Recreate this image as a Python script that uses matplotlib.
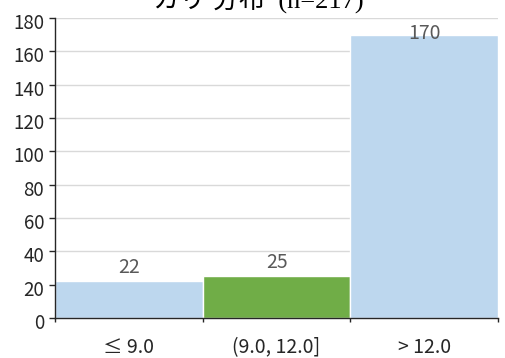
import matplotlib
matplotlib.use("Agg")
import matplotlib.pyplot as plt
import matplotlib.transforms as mtransforms
import numpy as np

# data
categories = ["≤ 9.0", "(9.0, 12.0]", "> 12.0"]
counts = [22, 25, 170]
bar_colors = ["#BDD7EE", "#70AD47", "#BDD7EE"]
title = "カリ 分布  (n=217)"

plt.rcParams['font.family'] = ['Noto Sans CJK JP', 'DejaVu Sans']

fig = plt.figure(figsize=(5.06, 3.58), dpi=100)
ax = fig.add_axes([0.109, 0.112, 0.875, 0.838])

x = np.arange(len(categories))
ax.bar(x, counts, width=1.0, color=bar_colors, edgecolor="white", linewidth=1.0, zorder=2)

for xi, v in zip(x, counts):
    ax.text(xi, min(v + 8, 170.5), str(v), ha="center", va="center",
            fontsize=14, color="#595959", zorder=3)

ax.set_xlim(-0.5, len(categories) - 0.5)
ax.set_ylim(0, 180)
ax.set_yticks(np.arange(0, 181, 20))
ax.yaxis.grid(True, color="#D9D9D9", linewidth=1.0, zorder=0)
ax.set_axisbelow(True)

# boundary ticks on x, labels at bar centres
ax.set_xticks(np.arange(-0.5, len(categories), 1.0))
ax.set_xticklabels([])
ax.set_xticks(x, minor=True)
ax.set_xticklabels(categories, minor=True)
ax.tick_params(axis="x", which="major", length=3, width=1, color="#262626")
ax.tick_params(axis="x", which="minor", length=0, pad=14, labelsize=14, labelcolor="#262626")
ax.tick_params(axis="y", length=4, width=1, color="#262626", labelsize=13.5, labelcolor="#262626", pad=4)

# y labels sit a little below their ticks in the original
shift = mtransforms.ScaledTranslation(0, -3 / 100, fig.dpi_scale_trans)
for lab in ax.get_yticklabels():
    lab.set_transform(lab.get_transform() + shift)

for s in ["top", "right"]:
    ax.spines[s].set_visible(False)
for s in ["left", "bottom"]:
    ax.spines[s].set_color("#262626")
    ax.spines[s].set_linewidth(1.0)

fig.text(0.51, 0.978, title, ha="center", va="baseline", fontsize=19,
         family=["Liberation Serif", "Noto Sans CJK JP"], color="black")

fig.savefig("out.png", dpi=100)
